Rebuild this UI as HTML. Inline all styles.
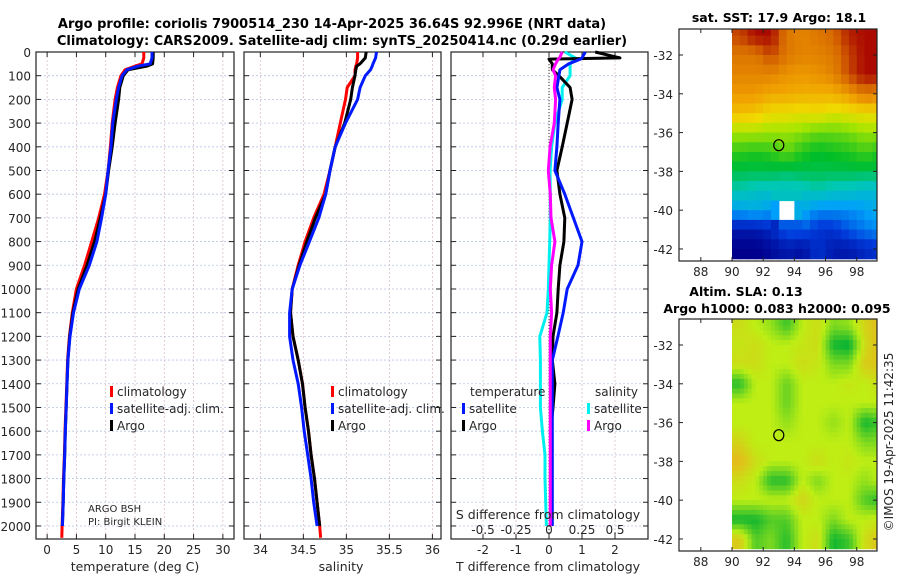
<!DOCTYPE html>
<html><head><meta charset="utf-8"><style>
body{margin:0;background:#fff;}
svg{display:block;font-family:"DejaVu Sans","Liberation Sans",sans-serif;}
</style></head><body>
<svg id="c" width="900" height="580" viewBox="0 0 900 580" xmlns="http://www.w3.org/2000/svg">
<rect width="900" height="580" fill="#fff"/>
<text x="332" y="28" font-size="13" font-weight="bold" text-anchor="middle">Argo profile: coriolis 7900514_230 14-Apr-2025 36.64S 92.996E (NRT data)</text>
<text x="342" y="45" font-size="13" font-weight="bold" text-anchor="middle">Climatology: CARS2009. Satellite-adj clim: synTS_20250414.nc (0.29d earlier)</text>
</svg>
<script>
// ---------- data ----------
const depthTemp = [0,25,50,60,75,100,150,200,300,400,500,600,700,800,900,1000,1100,1200,1300,1400,1500,1600,1700,1800,1900,2000,2050];
const tempClim = [16.5,16.5,16.2,15,13.3,12.6,12.0,11.6,11.1,10.8,10.4,9.8,8.8,7.6,6.4,5.0,4.3,3.8,3.5,3.35,3.2,3.05,2.95,2.8,2.7,2.55,2.5];
const depthProf = [0,25,50,60,75,100,150,200,300,400,500,600,700,800,900,1000,1100,1200,1300,1400,1500,1600,1700,1800,1900,2000];
const tempSat = [17.9,17.9,17.6,15.5,13.6,12.8,12.2,11.8,11.2,10.9,10.4,10.0,9.3,8.5,7.2,5.5,4.5,3.9,3.55,3.4,3.25,3.1,3.0,2.85,2.75,2.6];
const tempArgo = [18.1,18.1,18.0,17.0,13.8,13.0,12.4,12.2,11.6,11.1,10.5,10.0,9.1,8.1,6.8,5.3,4.4,3.85,3.55,3.4,3.25,3.1,3.0,2.85,2.75,2.6];
const salClim = [35.13,35.13,35.12,35.11,35.1,35.1,35.01,34.99,34.93,34.87,34.81,34.74,34.62,34.52,34.44,34.37,34.35,34.38,34.44,34.49,34.52,34.56,34.59,34.63,34.66,34.69,34.7];
const salSat = [35.35,35.34,35.31,35.3,35.28,35.22,35.16,35.13,34.99,34.87,34.81,34.76,34.68,34.57,34.46,34.37,34.34,34.34,34.38,34.44,34.48,34.51,34.55,34.59,34.62,34.66];
const salArgo = [35.23,35.22,35.16,35.12,35.11,35.1,35.07,35.05,34.98,34.87,34.81,34.76,34.64,34.54,34.45,34.37,34.35,34.38,34.44,34.49,34.52,34.56,34.59,34.63,34.66,34.69];
const depthDiff = [0,25,30,50,75,100,150,200,300,400,500,600,700,800,900,1000,1100,1200,1300,1400,1500,1600,1700,1800,1900,2000];
const dTempArgo = [1.4,2.15,0,0.1,0.1,0.3,0.64,0.7,0.55,0.4,0.24,0.33,0.48,0.45,0.33,0.28,0.24,0.12,0.1,0.18,0.12,0.05,0.05,0.05,0.05,0.05];
const dTempSat = [1.1,1.0,0.95,0.6,0.33,0.3,0.24,0.33,0.28,0.24,0.18,0.48,0.74,1.0,0.88,0.55,0.43,0.27,0.1,0.1,0.1,0.1,0.1,0.1,0.1,0.1];
const dSalSat = [0.12,0.2,0.19,0.16,0.16,0.16,0.1,0.1,0.045,0.02,0.008,0.01,0.01,0.005,0,-0.005,-0.015,-0.07,-0.065,-0.065,-0.065,-0.05,-0.03,-0.03,-0.025,-0.02];
const dSalArgo = [0.1,0.08,0.07,0.05,0.03,0.05,0.04,0.05,0.04,0.008,-0.005,0.01,0.015,0.045,0.02,0.01,0.02,0.01,0.01,0.01,0.01,0.01,0.01,0.01,0.01,0.01];
const depthTicks = [0,100,200,300,400,500,600,700,800,900,1000,1100,1200,1300,1400,1500,1600,1700,1800,1900,2000];
const tempTicks = [0,5,10,15,20,25,30];
const salTicks = [34,34.5,35,35.5,36];
const salTickLabels = ["34","34.5","35","35.5","36"];
const dTTicks = [-2,-1,0,1,2];
const dSTickLabels = ["-0.5","-0.25","0","0.25","0.5"];
const mapLonTicks = [88,90,92,94,96,98];
const mapLatTicks = [-32,-34,-36,-38,-40,-42];
const mapLats = [-31,-32,-33,-34,-35,-36,-37,-38,-39,-40,-41,-42];
const mapLons = [90,91,92,93,94,95,96,97,98,99];
const sstGrid = [
[19.5,20,20,19,18.8,19,19.2,19.8,20,20],
[19,19,19.5,19,18.8,18.8,19,19.5,20,20],
[18.8,18.8,18.8,18.6,18.5,18.6,18.8,19.5,20,20],
[18.5,18.5,18.3,18.3,18.2,18.2,18.2,18.5,19,18.8],
[18.0,17.9,17.6,17.6,17.5,17.6,17.4,17.5,17.6,17.6],
[17.0,17.0,16.9,16.9,16.8,16.6,16.6,16.7,16.9,16.9],
[16.3,16.2,16.3,16.6,16.2,16.0,16.1,16.2,16.4,16.2],
[15.8,15.8,15.8,15.7,15.8,15.8,15.8,15.8,15.8,15.8],
[15.2,15,15,15,15,15.2,15,15,14.8,14.8],
[14.3,14.5,14.2,null,14.5,14,14,14,14.2,14.5],
[12.5,12.5,12.8,13.5,13.5,13,13,13.5,13.8,14],
[12,12,12.2,12.5,12.3,13,12.5,12.5,12.8,13]];
const slaGrid = [
[0.2,0,-0.2,-0.6,0,0.2,-0.3,-0.2,0.3,0.6],
[0.1,0.2,0,0,0.1,0.2,-0.8,-0.9,0.2,0.6],
[0.2,0.2,0,0,0.2,0.1,-0.3,-0.3,0.4,0.5],
[-0.7,0,0,-0.4,0,0,0,0.1,0,0.2],
[0,0,0,-0.4,0,0,0,0,0,0],
[0,0,0,-0.2,0,0,-0.2,0,-0.8,-0.6],
[0.3,0,0,0,0,0,0,0,-0.3,-0.3],
[0.6,0.2,0,0,0,0.2,0,0.1,0,0],
[0.2,0,-0.7,-0.7,0,-0.3,0,0,-0.2,0],
[0,0,0,0,0.3,0,0,0,-0.5,-0.7],
[-0.8,-0.8,-0.5,-0.5,0,0,-0.3,0,0,0.1],
[0.4,-0.5,-0.3,-0.7,0,0.2,-0.8,-0.6,0.2,0.5]];
const argoLon = [93];
const argoLat = [-36.65];

// ---------- helpers ----------
const NS='http://www.w3.org/2000/svg';
const svg=document.getElementById('c');
function mk(tag,attrs,parent){const e=document.createElementNS(NS,tag);for(const k in attrs)e.setAttribute(k,attrs[k]);(parent||svg).appendChild(e);return e;}
function txt(s,x,y,size,anchor,parent){const t=mk('text',{x:x,y:y,'font-size':size,'text-anchor':anchor||'middle',fill:'#262626'},parent);t.textContent=s;return t;}
const TOP=52, BOT=539;
const yD=d=>TOP+(d-0)*(BOT-TOP)/2055;
function panel(name,x0,x1,xmin,xmax,ticks){
  const xs=v=>x0+(v-xmin)*(x1-x0)/(xmax-xmin);
  const g=mk('g',{});
  
  
  depthTicks.forEach(d=>{const l=mk('line',{x1:x0,x2:x1,y1:yD(d),y2:yD(d),stroke:'#b8c4e8','stroke-width':0.8,'stroke-dasharray':'2,2'},g);});
  ticks.forEach(v=>{const l=mk('line',{x1:xs(v),x2:xs(v),y1:TOP,y2:BOT,stroke:'#d8c0c8','stroke-width':0.8,'stroke-dasharray':'2,2'},g);});
  depthTicks.forEach(d=>{mk('line',{x1:x0,x2:x0+5,y1:yD(d),y2:yD(d),stroke:'#222'},g);mk('line',{x1:x1,x2:x1-5,y1:yD(d),y2:yD(d),stroke:'#222'},g);});
  ticks.forEach(v=>{mk('line',{x1:xs(v),x2:xs(v),y1:BOT,y2:BOT-5,stroke:'#222'},g);mk('line',{x1:xs(v),x2:xs(v),y1:TOP,y2:TOP+5,stroke:'#222'},g);});
  const f=mk('rect',{x:x0,y:TOP,width:x1-x0,height:BOT-TOP,fill:'none',stroke:'#222','stroke-width':1.2},g);
  
  return {xs,g,x0,x1};
}
function line(p,xv,dv,color,name,w){
  const pts=xv.map((v,i)=>p.xs(v).toFixed(1)+','+yD(dv[i]).toFixed(1)).join(' ');
  const l=mk('polyline',{points:pts,fill:'none',stroke:color,'stroke-width':w||3,'stroke-linejoin':'round'},p.g);
  
  
}
function legendItem(x,y,color,label,parent){
  mk('rect',{x:x,y:y-10,width:3,height:11,fill:color},parent);
  const t=txt(label,x+7,y,12,'start',parent);
  
  
}

depthTicks.forEach(d=>{const t=txt(String(d),31,yD(d)+5,12,'end');});

// panel 1 temperature
const p1=panel('temperature-panel',36,234,-1.9,31.9,tempTicks);
line(p1,tempClim,depthTemp,'#f00','temp-climatology-line');
line(p1,tempArgo,depthProf,'#000','temp-argo-line');
line(p1,tempSat,depthProf,'#0019ff','temp-satellite-line');
tempTicks.forEach(v=>{const t=txt(String(v),p1.xs(v),554,12);});
let t1=txt('temperature (deg C)',135,571,12.5);
legendItem(110,396,'#f00','climatology',p1.g);
legendItem(110,413,'#0019ff','satellite-adj. clim.',p1.g);
legendItem(110,430,'#000','Argo',p1.g);
let a1=txt('ARGO BSH',88,512,10,'start');
let a2=txt('PI: Birgit KLEIN',88,525,10,'start');

// panel 2 salinity
const p2=panel('salinity-panel',244,441,33.81,36.1,salTicks);
line(p2,salClim,depthTemp,'#f00','sal-climatology-line');
line(p2,salArgo,depthProf,'#000','sal-argo-line');
line(p2,salSat,depthProf,'#0019ff','sal-satellite-line');
salTicks.forEach((v,i)=>{const t=txt(salTickLabels[i],p2.xs(v),554,12);});
let t2=txt('salinity',341,571,12.5);
legendItem(331,396,'#f00','climatology',p2.g);
legendItem(331,413,'#0019ff','satellite-adj. clim.',p2.g);
legendItem(331,430,'#000','Argo',p2.g);

// panel 3 differences
const p3=panel('difference-panel',451,648,-2.97,3.0,dTTicks);
const zl=mk('line',{x1:p3.xs(0),x2:p3.xs(0),y1:TOP,y2:BOT,stroke:'#333','stroke-width':1,'stroke-dasharray':'1,2'},p3.g);

const sS=v=>v*4;
line(p3,dSalSat.map(sS),depthDiff,'#00f0f0','sal-satellite-diff-line');
line(p3,dTempArgo,depthDiff,'#000','temp-argo-diff-line');
line(p3,dTempSat,depthDiff,'#0019ff','temp-satellite-diff-line');
line(p3,dSalArgo.map(sS),depthDiff,'#f0f','sal-argo-diff-line');
dTTicks.forEach(v=>{const t=txt(String(v),p3.xs(v),554,12);});
dTTicks.forEach((v,i)=>{const t=txt(dSTickLabels[i],p3.xs(v),534,12);});
let t3=txt('T difference from climatology',548,571,12.5);
let t4=txt('S difference from climatology',548,519,12.5);
let lt=txt('temperature',470,396,12,'start',p3.g);
legendItem(462,413,'#0019ff','satellite',p3.g);
legendItem(462,430,'#000','Argo',p3.g);
let ls=txt('salinity',595,396,12,'start',p3.g);
legendItem(587,413,'#00f0f0','satellite',p3.g);
legendItem(587,430,'#f0f','Argo',p3.g);

// ---------- maps ----------
const sstStops=[[12,[0,0,140]],[13.2,[0,60,220]],[14.2,[0,160,250]],[15.2,[0,200,180]],[16,[0,190,40]],[17,[170,230,0]],[17.6,[240,220,0]],[18.4,[240,160,0]],[19.2,[215,105,0]],[20,[170,10,0]]];
function sstCol(v){
  if(v<=sstStops[0][0])return `rgb(${sstStops[0][1]})`;
  for(let i=1;i<sstStops.length;i++){if(v<=sstStops[i][0]){const a=sstStops[i-1],b=sstStops[i],k=(v-a[0])/(b[0]-a[0]);
    return `rgb(${a[1].map((c,j)=>Math.round(c+(b[1][j]-c)*k)).join(',')})`;}}
  return `rgb(${sstStops[sstStops.length-1][1]})`;}
function slaCol(v){let r,g,b;
  if(v<0){const k=Math.min(1,-v*1.2);r=190*(1-k)+10*k;g=238*(1-k)+180*k;b=20*(1-k)+50*k;}
  else{const k=Math.min(1,v*1.2);r=190*(1-k)+245*k;g=238*(1-k)+165*k;b=20*(1-k)+30*k;}
  return `rgb(${Math.round(r)},${Math.round(g)},${Math.round(b)})`;}
function sample(grid,fi,fj){
  const i0=Math.max(0,Math.min(grid.length-1,Math.floor(fi))),i1=Math.min(grid.length-1,i0+1);
  const j0=Math.max(0,Math.min(grid[0].length-1,Math.floor(fj))),j1=Math.min(grid[0].length-1,j0+1);
  const a=Math.max(0,Math.min(1,fi-i0)),b=Math.max(0,Math.min(1,fj-j0));
  const g=(i,j)=>grid[i][j];
  return g(i0,j0)*(1-a)*(1-b)+g(i1,j0)*a*(1-b)+g(i0,j1)*(1-a)*b+g(i1,j1)*a*b;
}
function map(name,top,bottom,grid,colf,sub){
  const X0=679,X1=877;
  const xs=lon=>X0+(lon-86.6)*(X1-X0)/(99.3-86.6);
  const ys=lat=>top+(-30.66-lat)*(bottom-top)/(42.62-30.66);
  const g=mk('g',{});
  
  
  const cid=name+'-clip';
  const cp=mk('clipPath',{id:cid},g);mk('rect',{x:X0,y:top,width:X1-X0,height:bottom-top},cp);
  const cells=mk('g',{'clip-path':`url(#${cid})`},g);
  const n=sub;
  grid.forEach((row,i)=>row.forEach((v,j)=>{
    const lat=mapLats[i],lon=mapLons[j];
    for(let a=0;a<n;a++)for(let b=0;b<n;b++){
      if(v===null)continue;
      const fi=i-0.5+(a+0.5)/n, fj=j-0.5+(b+0.5)/n;
      let val=v;
      if(n>1){let ok=true;for(const ii of [Math.floor(fi),Math.floor(fi)+1])for(const jj of [Math.floor(fj),Math.floor(fj)+1]){const r=grid[Math.max(0,Math.min(grid.length-1,ii))];if(r[Math.max(0,Math.min(r.length-1,jj))]===null)ok=false;}
        if(ok)val=sample(grid,fi,fj);}
      const la=lat+0.5-a/n, lo=lon+b/n;
      const r=mk('rect',{x:xs(lo).toFixed(1),y:ys(la).toFixed(1),width:(xs(lo+1/n)-xs(lo)+0.6).toFixed(1),height:(ys(la-1/n)-ys(la)+0.6).toFixed(1),fill:colf(val)},cells);
      
      
    }
  }));
  mk('rect',{x:X0,y:top,width:X1-X0,height:bottom-top,fill:'none',stroke:'#222','stroke-width':1.2},g);
  mapLonTicks.forEach(v=>{mk('line',{x1:xs(v),x2:xs(v),y1:bottom,y2:bottom-4,stroke:'#222'},g);mk('line',{x1:xs(v),x2:xs(v),y1:top,y2:top+4,stroke:'#222'},g);
    const t=txt(String(v),xs(v),bottom+15,12,'middle',g);});
  mapLatTicks.forEach(v=>{mk('line',{x1:X0,x2:X0+4,y1:ys(v),y2:ys(v),stroke:'#222'},g);mk('line',{x1:X1,x2:X1-4,y1:ys(v),y2:ys(v),stroke:'#222'},g);
    const t=txt(String(v),673,ys(v)+5,12,'end',g);});
  const c=mk('ellipse',{cx:xs(argoLon[0]),cy:ys(argoLat[0]),rx:5,ry:5.5,fill:'none',stroke:'#000','stroke-width':1.2},g);
  
}
map('sst-map',29,261,sstGrid,sstCol,2);
map('sla-map',319,551,slaGrid,slaCol,4);
let m1=txt('sat. SST: 17.9 Argo: 18.1',779,22,12.5,'middle');m1.setAttribute('font-weight','bold');m1.setAttribute('fill','#000');
let m2=txt('Altim. SLA: 0.13',746,296,12.5,'middle');m2.setAttribute('font-weight','bold');m2.setAttribute('fill','#000');
let m3=txt('Argo h1000: 0.083 h2000: 0.095',777,313,12.5,'middle');m3.setAttribute('font-weight','bold');m3.setAttribute('fill','#000');
let cr=txt('©IMOS 19-Apr-2025 11:42:35',0,0,12,'middle');cr.setAttribute('transform','translate(893,442) rotate(-90)');
</script>
</body></html>
